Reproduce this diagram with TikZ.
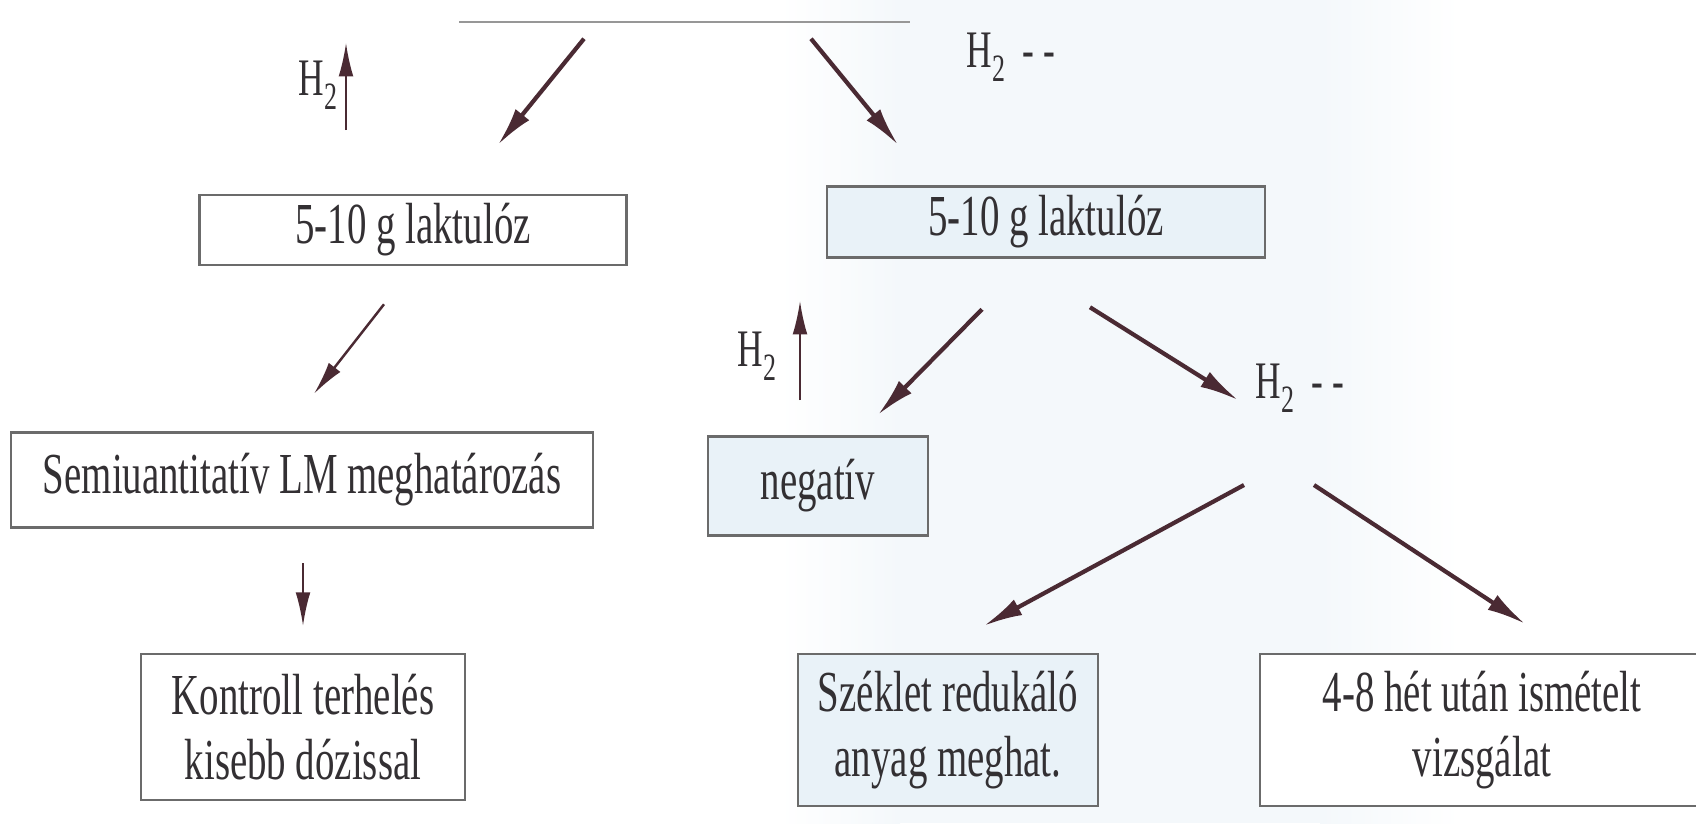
\documentclass[tikz,border=0pt]{standalone}
\usepackage{fontspec}
\setmainfont[FakeStretch=0.67]{Liberation Serif}
\usetikzlibrary{arrows.meta}
\definecolor{colNyil}{HTML}{4A2A33}
\definecolor{colKeret}{HTML}{6B6B6B}
\definecolor{colSzoveg}{HTML}{333033}
\definecolor{colTinte}{HTML}{F4F8FB}
\definecolor{colDoboz}{HTML}{E9F2F8}
\newcommand\Hket{H\raisebox{-4.2pt}{\fontsize{11}{11}\selectfont 2}}

\begin{document}
\begin{tikzpicture}[x=0.01cm, y=-0.01cm, font=\fontsize{16.5}{18.5}\selectfont, text=colSzoveg,
    doboz/.style={draw=colKeret, line width=0.7pt, align=center, inner sep=0pt},
    kekdoboz/.style={doboz, fill=colDoboz},
    cimke/.style={inner sep=0pt, anchor=base west, font=\fontsize{15}{17}\selectfont},
    nyil/.style={draw=colNyil, line width=1.2pt, -{Latex[length=11pt, width=5pt]}},
    vekony/.style={draw=colNyil, line width=0.55pt, -{Latex[length=9.5pt, width=4.2pt]}}]
    \useasboundingbox (0,0) rectangle (1696,823);
    \clip (0,0) rectangle (1696,823);

    % halvány kék háttér a jobb oldalon
    \shade[left color=white, right color=colTinte] (780,0) rectangle (900,823);
    \fill[colTinte] (900,0) rectangle (1320,823);
    \shade[left color=colTinte, right color=white] (1320,0) rectangle (1460,823);

    % felső (levágott) doboz alja
    \node[minimum width=4.49cm, minimum height=0.8cm, inner sep=0pt] (felso) at (684.5,-19) {};
    \draw[colKeret!70, line width=0.6pt] (felso.south west) -- (felso.south east);

    % bal ág
    \node[doboz, fill=white, minimum width=4.27cm, minimum height=0.70cm] (lakt1) at (413,230) {5-10 g laktulóz};
    \node[doboz, fill=white, minimum width=5.82cm, minimum height=0.95cm] (semi) at (302,480) {Semiuantitatív LM meghatározás};
    \node[doboz, fill=white, minimum width=3.24cm, minimum height=1.46cm] (kontroll) at (303,727) {Kontroll terhelés\\kisebb dózissal};

    % jobb ág
    \node[kekdoboz, minimum width=4.38cm, minimum height=0.71cm] (lakt2) at (1046,222) {5-10 g laktulóz};
    \node[kekdoboz, minimum width=2.20cm, minimum height=0.99cm] (neg) at (818,486) {negatív};
    \node[kekdoboz, minimum width=3.00cm, minimum height=1.52cm] (szeklet) at (948,730) {Széklet redukáló\\anyag meghat.};
    \node[doboz, fill=white, minimum width=4.44cm, minimum height=1.52cm] (ismetelt) at (1482,730) {4-8 hét után ismételt\\vizsgálat};

    % H2 cimkék
    \node[cimke] (h2bal) at (298,95) {\Hket};
    \node[cimke] (h2fent) at (966,67) {\Hket\,\,-\,-};
    \node[cimke] (h2kozep) at (737,366) {\Hket};
    \node[cimke] (h2jobb) at (1255,398) {\Hket\,\,-\,-};

    % felfelé mutató nyilak
    \draw[vekony] ([shift={(48,35)}]h2bal.base west) -- ([shift={(48,-52)}]h2bal.base west);
    \draw[vekony] ([shift={(63,34)}]h2kozep.base west) -- ([shift={(63,-65)}]h2kozep.base west);

    % nyilak
    \draw[nyil] ([shift={(-100.5,17)}]felso.south) -- ([shift={(85,-49)}]lakt1.north);
    \draw[nyil] ([shift={(126.5,17)}]felso.south) -- ([shift={(-148,-40.5)}]lakt2.north);
    \draw[vekony, line width=0.7pt] ([shift={(-29,38)}]lakt1.south) -- ([shift={(12,-37.5)}]semi.north);
    \draw[vekony] ([shift={(1,34.5)}]semi.south) -- ([shift={(0,-27)}]kontroll.north);
    \draw[nyil] ([shift={(-64,50.5)}]lakt2.south) -- ([shift={(60,-20.5)}]neg.north);
    \draw[nyil] ([shift={(44,48.5)}]lakt2.south) -- ([shift={(-17,2)}]h2jobb.base west);
    \draw[nyil] ([shift={(-11,87)}]h2jobb.base west) -- ([shift={(36,-27)}]szeklet.north);
    \draw[nyil] ([shift={(59,87)}]h2jobb.base west) -- ([shift={(43,-29)}]ismetelt.north);
\end{tikzpicture}
\end{document}
